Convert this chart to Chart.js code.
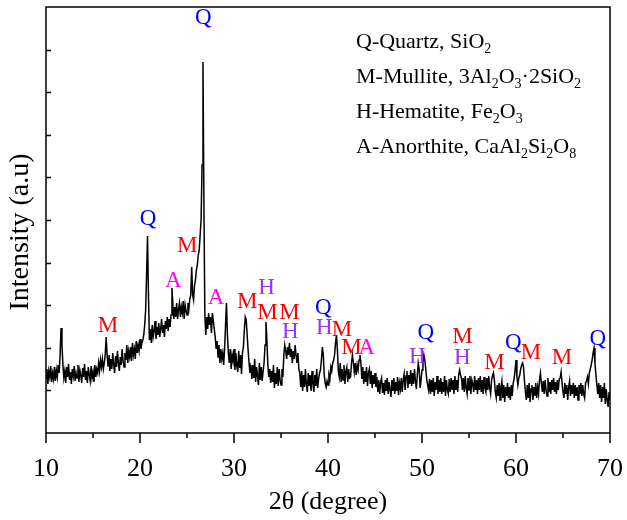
<!DOCTYPE html>
<html>
<head>
<meta charset="utf-8">
<script src="https://cdn.jsdelivr.net/npm/chart.js@4.4.1/dist/chart.umd.min.js"></script>
<style>
  html, body { margin: 0; padding: 0; background: #fff; }
</style>
</head>
<body>
<canvas id="xrdChart" width="627" height="520"></canvas>
<script>
/* XRD pattern: one value every 0.1 degree from 10 to 70 */
const startAngle = 10;
const stepAngle = 0.1;
const intensity = [
  470, 560, 410, 540, 480, 590, 430, 520, 460, 580,
  440, 550, 480, 600, 520, 700, 970, 800, 600, 470,
  540, 420, 580, 480, 610, 450, 530, 410, 560, 490,
  590, 440, 520, 470, 600, 430, 550, 500, 420, 570,
  480, 610, 450, 540, 420, 580, 500, 440, 590, 470,
  530, 430, 600, 480, 560, 520, 620, 540, 650, 580,
  660, 560, 620, 700, 880, 700, 590, 700, 540, 660,
  560, 720, 600, 520, 690, 580, 740, 620, 540, 680,
  600, 760, 640, 580, 720, 650, 800, 620, 740, 680,
  780, 640, 820, 700, 760, 660, 840, 720, 800, 740,
  860, 760, 820, 850, 900, 1000, 1150, 1500, 1890, 1300,
  850, 960, 820, 1000, 880, 940, 1040, 860, 980, 900,
  1020, 880, 960, 1060, 920, 1000, 880, 1040, 960, 1080,
  940, 1060, 980, 1100, 1370, 1200, 1060, 1180, 1080, 1220,
  1060, 1160, 1220, 1080, 1180, 1120, 1240, 1060, 1200, 1140,
  1100, 1220, 1160, 1260, 1300, 1580, 1300, 1250, 1400, 1450,
  1550, 1600, 1700, 1750, 1900, 2050, 2600, 3630, 2200, 1100,
  900, 1080, 960, 1120, 1000, 1080, 920, 1120, 1040, 960,
  880, 760, 840, 680, 800, 620, 760, 660, 720, 600,
  760, 1000, 1220, 900, 720, 620, 760, 560, 700, 640,
  760, 550, 720, 590, 530, 740, 570, 700, 510, 720,
  780, 950, 1080, 1050, 900, 750, 620, 520, 600, 460,
  600, 470, 660, 430, 580, 490, 400, 620, 450, 580,
  440, 540, 620, 800, 1030, 850, 600, 480, 560, 420,
  540, 430, 600, 370, 520, 410, 580, 390, 560, 450,
  400, 560, 480, 700, 800, 740, 660, 780, 700, 820,
  680, 760, 620, 740, 660, 800, 700, 620, 720, 560,
  520, 380, 540, 340, 500, 380, 560, 400, 330, 520,
  390, 500, 340, 540, 410, 330, 500, 390, 560, 370,
  460, 520, 550, 650, 780, 700, 500, 420, 380, 440,
  400, 500, 460, 580, 540, 620, 650, 700, 820, 900,
  750, 540, 480, 620, 430, 560, 450, 600, 410, 540,
  580, 430, 560, 470, 480, 620, 700, 620, 530, 620,
  500, 600, 550, 650, 700, 620, 460, 580, 410, 540,
  430, 580, 390, 520, 560, 410, 540, 370, 500, 410,
  520, 380, 480, 330, 450, 310, 430, 470, 320, 420,
  300, 450, 340, 470, 310, 430, 350, 280, 450, 340,
  470, 310, 430, 340, 480, 300, 420, 360, 470, 330,
  450, 510, 350, 490, 540, 370, 500, 410, 550, 390,
  520, 410, 560, 440, 360, 500, 620, 560, 370, 450,
  550, 620, 700, 650, 560, 460, 400, 350, 460, 310,
  450, 330, 470, 290, 430, 350, 490, 310, 450, 330,
  470, 310, 430, 330, 490, 290, 450, 350, 310, 460,
  330, 470, 350, 450, 310, 490, 350, 450, 330, 500,
  550, 500, 470, 350, 470, 330, 490, 370, 310, 470,
  350, 490, 310, 450, 410, 330, 490, 350, 450, 310,
  470, 350, 490, 330, 450, 310, 480, 370, 330, 470,
  350, 490, 370, 310, 450, 490, 520, 450, 330, 270,
  400, 290, 420, 250, 380, 440, 270, 400, 230, 380,
  290, 420, 270, 380, 250, 400, 290, 420, 460, 550,
  650, 480, 400, 470, 500, 560, 600, 620, 580, 440,
  330, 250, 400, 270, 420, 230, 360, 400, 250, 380,
  290, 420, 270, 380, 310, 450, 520, 420, 330, 440,
  310, 450, 350, 290, 470, 330, 430, 310, 450, 350,
  470, 330, 430, 310, 450, 350, 460, 470, 530, 420,
  330, 270, 420, 310, 400, 250, 380, 440, 290, 400,
  310, 420, 270, 400, 290, 380, 250, 400, 310, 420,
  290, 400, 310, 270, 420, 440, 480, 410, 520, 560,
  600, 650, 720, 770, 620, 500, 400, 310, 420, 270,
  400, 230, 380, 270, 420, 210, 360, 250, 180, 330,
  250
];

/* phase marks above the peaks */
const markPhases = ["Q", "Q", "M", "A", "M", "A", "M", "H", "M", "M", "H", "Q", "H",
  "M", "M", "A", "H", "Q", "M", "H", "M", "Q", "M", "M", "Q"];
const markAngles = [26.73, 20.87, 25.03, 23.54, 16.6, 28.1, 31.4, 33.45, 33.55, 35.9, 36.0, 39.5, 39.6,
  41.5, 42.5, 44.1, 49.5, 50.4, 54.3, 54.3, 57.7, 59.7, 61.6, 64.9, 68.7];
const markHeights = [4070, 2060, 1790, 1440, 990, 1270, 1230, 1370, 1120, 1120, 930, 1170, 970,
  950, 770, 770, 680, 920, 880, 670, 620, 820, 720, 670, 860];

const phaseColors = { Q: "#0000ff", M: "#ff0000", H: "#9933ff", A: "#ff00ff" };

/* legend lines: [text, subscript?] pieces */
const legendLines = [
  [["Q-Quartz, SiO", 0], ["2", 1]],
  [["M-Mullite, 3Al", 0], ["2", 1], ["O", 0], ["3", 1], ["\u00b72SiO", 0], ["2", 1]],
  [["H-Hematite, Fe", 0], ["2", 1], ["O", 0], ["3", 1]],
  [["A-Anorthite, CaAl", 0], ["2", 1], ["Si", 0], ["2", 1], ["O", 0], ["8", 1]]
];

const serif = "'Liberation Serif', 'Times New Roman', serif";

const points = intensity.map((v, i) => ({ x: +(startAngle + i * stepAngle).toFixed(1), y: v }));

/* frame, ticks, peak marks, legend and y title */
const decorPlugin = {
  id: "decor",
  afterDraw(chart) {
    const { ctx, chartArea: a, scales: { x, y } } = chart;
    ctx.save();
    ctx.strokeStyle = "#000";
    ctx.lineWidth = 1.5;
    ctx.strokeRect(a.left, a.top, a.right - a.left, a.bottom - a.top);

    const seg = (x1, y1, x2, y2) => {
      ctx.beginPath();
      ctx.moveTo(x1, y1);
      ctx.lineTo(x2, y2);
      ctx.stroke();
    };

    // x ticks: major outward, minor halfway
    x.ticks.forEach(t => {
      const px = x.getPixelForValue(t.value);
      seg(px, a.bottom, px, a.bottom + 10);
      if (t.value + 5 < x.max) {
        const pm = x.getPixelForValue(t.value + 5);
        seg(pm, a.bottom, pm, a.bottom + 5);
      }
    });

    // y ticks point inward
    y.ticks.forEach(t => {
      if (t.value <= y.min || t.value >= y.max) return;
      const py = Math.round(y.getPixelForValue(t.value)) + 0.5;
      seg(a.left, py, a.left + 5, py);
    });

    // phase marks
    ctx.font = "23px " + serif;
    ctx.textAlign = "center";
    ctx.textBaseline = "middle";
    markPhases.forEach((p, i) => {
      ctx.fillStyle = phaseColors[p];
      ctx.fillText(p, x.getPixelForValue(markAngles[i]), y.getPixelForValue(markHeights[i]));
    });

    // legend text with subscripts
    ctx.fillStyle = "#000";
    ctx.textAlign = "left";
    ctx.textBaseline = "alphabetic";
    legendLines.forEach((line, row) => {
      let cx = a.left + 310;
      const base = a.top + 41 + row * 35;
      line.forEach(([txt, sub]) => {
        ctx.font = (sub ? "14px " : "22px ") + serif;
        ctx.fillText(txt, cx, sub ? base + 5 : base);
        cx += ctx.measureText(txt).width;
      });
    });

    // y axis title
    ctx.translate(21, 232);
    ctx.rotate(-Math.PI / 2);
    ctx.font = "28px " + serif;
    ctx.textAlign = "center";
    ctx.textBaseline = "middle";
    ctx.fillText("Intensity (a.u)", 0, 0);
    ctx.restore();
  }
};

new Chart(document.getElementById("xrdChart"), {
  type: "line",
  data: {
    datasets: [{
      data: points,
      borderColor: "#000",
      borderWidth: 1.5,
      pointRadius: 0,
      tension: 0,
      fill: false
    }]
  },
  options: {
    responsive: false,
    animation: false,
    layout: { padding: { top: 7, right: 17, left: 0, bottom: 0 } },
    plugins: {
      legend: { display: false },
      tooltip: { enabled: false }
    },
    scales: {
      x: {
        type: "linear",
        min: 10,
        max: 70,
        grid: { display: false, drawTicks: false },
        border: { display: false },
        ticks: {
          stepSize: 10,
          padding: 21,
          color: "#000",
          font: { family: serif, size: 26 }
        },
        title: {
          display: true,
          text: "2\u03b8 (degree)",
          color: "#000",
          font: { family: serif, size: 26 },
          padding: { top: 0, bottom: 2 }
        },
        afterFit: scale => {
          scale.height = 87;
          scale.paddingLeft = 0;
          scale.paddingRight = 0;
        }
      },
      y: {
        min: -80,
        max: 4180,
        grid: { display: false, drawTicks: false },
        border: { display: false },
        ticks: { display: false, stepSize: 410, includeBounds: false },
        afterFit: scale => { scale.width = 46; }
      }
    }
  },
  plugins: [decorPlugin]
});
</script>
</body>
</html>
